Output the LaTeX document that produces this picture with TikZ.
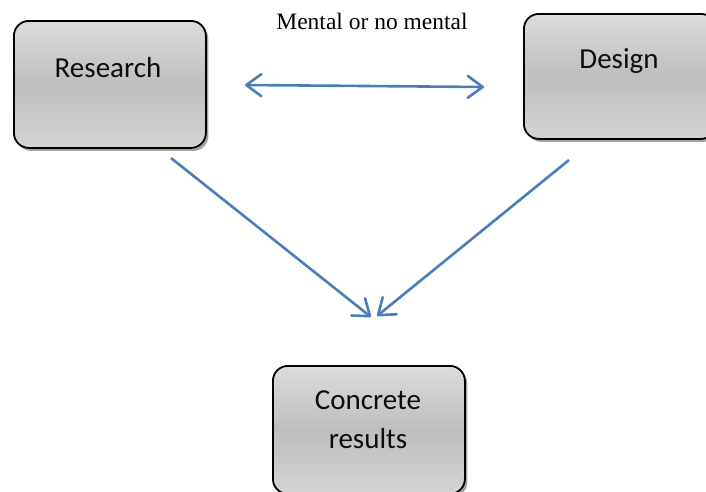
\documentclass[tikz,border=0pt]{standalone}
\usepackage{fontspec}
\setmainfont{Liberation Serif}
\newfontfamily\calib{Carlito}
\usetikzlibrary{arrows.meta,shadows}
\definecolor{arrowblue}{HTML}{4A7EBB}
\definecolor{boxtop}{HTML}{DCDCDC}
\definecolor{boxmid}{HTML}{BEBEBE}
\definecolor{boxbot}{HTML}{D4D4D4}
\tikzset{
  greybox/.style={draw=black, line width=1.8pt, rounded corners=15pt,
    top color=boxtop, bottom color=boxbot, middle color=boxmid,
    drop shadow={shadow xshift=2.5pt, shadow yshift=-3pt, fill=black!60, opacity=0.6},
    inner sep=0pt, anchor=north west},
  boxtext/.style={font=\calib\fontsize{29}{39}\selectfont, text=black!95, align=center},
  tipstyle/.style={},
  bluearrow/.style={draw=arrowblue, line width=2.6pt, line join=round,
    -{Straight Barb[length=15pt,width=22pt,line width=2.6pt,round]}},
  bluedouble/.style={draw=arrowblue, line width=2.6pt, line join=round,
    {Straight Barb[length=15pt,width=22pt,line width=2.6pt,round]}-{Straight Barb[length=15pt,width=22pt,line width=2.6pt,round]}}
}
\begin{document}
\begin{tikzpicture}[x=1pt,y=-1pt]
\useasboundingbox (0,0) rectangle (706,491);
\begin{scope}
\clip (0,0) rectangle (706,491);
\node[greybox, minimum width=192pt, minimum height=127pt] (research) at (13,20) {};
\node[greybox, minimum width=192pt, minimum height=125pt] (design) at (523,13) {};
\node[greybox, minimum width=192pt, minimum height=128pt] (concrete) at (272,365) {};
\end{scope}
\node[boxtext] (rtext) at (108,68) {Research};
\node[boxtext] (dtext) at (619,61) {Design};
\node[boxtext] (ctext) at (368,420) {Concrete\\results};
\node[font=\fontsize{23.5}{28}\selectfont, text=black] (label) at (372,21) {Mental or no mental};
\coordinate (dl) at (245,85);
\coordinate (dr) at (484,87);
\coordinate (rs) at (171,158);
\coordinate (ds) at (569,160);
\coordinate (cl) at (371,317);
\coordinate (cr) at (377,316);
\draw[bluedouble] (dl) -- (dr);
\draw[bluearrow] (rs) -- (cl);
\draw[bluearrow] (ds) -- (cr);
\end{tikzpicture}
\end{document}
